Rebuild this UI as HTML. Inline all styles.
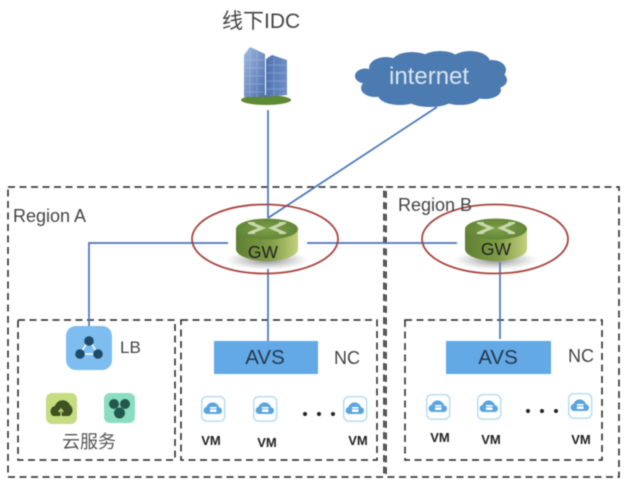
<!DOCTYPE html>
<html>
<head>
<meta charset="utf-8">
<style>
html,body{margin:0;padding:0;background:#fff;width:627px;height:486px;overflow:hidden}
svg{display:block;filter:blur(.45px)}
text{font-family:"Liberation Sans","Noto Sans CJK SC",sans-serif}
</style>
</head>
<body>
<svg width="627" height="486" viewBox="0 0 627 486" xmlns="http://www.w3.org/2000/svg">
<defs>
<linearGradient id="side" x1="0" x2="1" y1="0" y2="0">
<stop offset="0" stop-color="#5f7f32"/><stop offset=".55" stop-color="#7f9c45"/><stop offset="1" stop-color="#c3d07c"/>
</linearGradient>
<radialGradient id="top" cx=".5" cy=".5" r=".6">
<stop offset="0" stop-color="#7f9f48"/><stop offset="1" stop-color="#5d8134"/>
</radialGradient>
<radialGradient id="shadow">
<stop offset="0" stop-color="#666" stop-opacity=".8"/><stop offset="1" stop-color="#999" stop-opacity="0"/>
</radialGradient>
<linearGradient id="bld" x1="0" x2="1" y1="0" y2="1">
<stop offset="0" stop-color="#9db8e0"/><stop offset="1" stop-color="#4d6fae"/>
</linearGradient>
<linearGradient id="bld2" x1="0" x2="1" y1="0" y2="0">
<stop offset="0" stop-color="#4f72b0"/><stop offset="1" stop-color="#6f8fc6"/>
</linearGradient>
<g id="router">
<ellipse cx="0" cy="31" rx="42" ry="10" fill="url(#shadow)"/>
<path d="M-31 0V20C-31 27-16 32 0 32S31 27 31 20V0Z" fill="url(#side)"/>
<ellipse cx="0" cy="0" rx="31" ry="10.500" fill="url(#top)"/>
<g stroke="#c8d9ad" stroke-width="3" fill="none">
<path d="M-17-6-5-1-17 4M17-6 5-1 17 4"/>
<path d="M-19-6H-12M19-6H12M-19 4H-12M19 4H12" stroke-width="2"/>
</g>
</g>
<g id="vm">
<rect x="0.700" y="0.700" width="23" height="24.500" rx="5" fill="#fff" stroke="#b5dbee" stroke-width="1.400"/>
<path d="M6 18a3.600 3.600 0 0 1-.6-7.100A6.600 6.600 0 0 1 18 11.200 3.500 3.500 0 0 1 18.500 18Z" fill="#5aa5e0"/>
<rect x="9" y="11" width="6.500" height="5" fill="#fff"/>
<path d="M9 13H15.500" stroke="#5aa5e0" stroke-width=".8"/>
</g>
</defs>

<!-- dashed boxes -->
<g fill="none" stroke="#222" stroke-width="1.500" stroke-dasharray="7 4.500">
<rect x="8" y="187" width="376" height="290"/>
<rect x="386" y="187" width="233" height="290"/>
<rect x="18" y="320" width="157" height="140"/>
<rect x="181" y="320" width="196" height="140"/>
<rect x="405" y="320" width="197" height="140"/>
</g>

<!-- connectors -->
<g fill="none" stroke="#4a74b8" stroke-width="1.700">
<path d="M268 110V218"/>
<path d="M437 107 268 218"/>
<path d="M228 243H89V327"/>
<path d="M307 243H457"/>
<path d="M268 269V341"/>
<path d="M500 262V339"/>
</g>

<!-- labels top -->
<text x="222" y="28" font-size="21" fill="#444">线下IDC</text>

<!-- building -->
<ellipse cx="266" cy="100" rx="25" ry="5" fill="#5d8a33"/>
<path d="M244 97V55L250 47 265 54V97Z" fill="url(#bld)"/>
<path d="M266 97V59L272 55 287 60V95Z" fill="url(#bld2)"/>
<g stroke="#dfe9f7" stroke-opacity=".35" stroke-width=".7">
<path d="M246 60H264M246 68H264M246 76H264M246 84H264M246 92H264M250 50V97M257 52V97"/>
<path d="M267 65H286M267 73H286M267 81H286M267 89H286M274 57V96"/>
</g>

<!-- cloud -->
<g fill="#4b7bb1">
<ellipse cx="365" cy="76" rx="10" ry="7.500"/>
<ellipse cx="386" cy="68" rx="17" ry="11"/>
<ellipse cx="412" cy="62" rx="20" ry="10"/>
<ellipse cx="440" cy="61" rx="20" ry="10"/>
<ellipse cx="470" cy="62" rx="20" ry="11"/>
<ellipse cx="492" cy="70" rx="14" ry="10"/>
<ellipse cx="497" cy="80" rx="10" ry="8"/>
<ellipse cx="485" cy="90" rx="16" ry="9"/>
<ellipse cx="460" cy="96" rx="20" ry="9"/>
<ellipse cx="430" cy="98" rx="24" ry="9"/>
<ellipse cx="400" cy="95" rx="22" ry="10"/>
<ellipse cx="375" cy="88" rx="14" ry="9"/>
<ellipse cx="430" cy="78" rx="66" ry="20"/>
</g>
<text x="389" y="84" font-size="24" fill="#d8e5f2">internet</text>

<!-- routers and rings -->
<use href="#router" x="267" y="229"/>
<use href="#router" x="496" y="229"/>
<ellipse cx="265" cy="239" rx="73" ry="34.500" fill="none" stroke="#a8443f" stroke-width="1.800"/>
<ellipse cx="495" cy="239" rx="73" ry="34.500" fill="none" stroke="#a8443f" stroke-width="1.800"/>
<text x="263" y="258" font-size="17.500" fill="#222" text-anchor="middle">GW</text>
<text x="496" y="255" font-size="17.500" fill="#222" text-anchor="middle">GW</text>

<text x="13" y="222" font-size="18" fill="#444">Region A</text>
<text x="398" y="211" font-size="18" fill="#444">Region B</text>

<!-- LB -->
<rect x="66" y="326" width="46" height="44" rx="10" fill="#7dbdf0"/>
<g stroke="#fff" stroke-width="1.500" fill="none"><path d="M89 340 80 354H98Z"/></g>
<g fill="#1f4a68"><circle cx="89" cy="341" r="4.800"/><circle cx="80" cy="354" r="4.800"/><circle cx="98" cy="354" r="4.800"/></g>
<text x="120" y="353" font-size="17" fill="#444">LB</text>

<!-- service icons -->
<rect x="46" y="393" width="31" height="31" rx="6" fill="#c6dc80"/>
<path d="M53 416a5.500 5.500 0 0 1 2-10 8 8 0 0 1 15-1 6.500 6.500 0 0 1-1 11Z" fill="#3d5220"/>
<path d="M61 417V410M58.500 412 61 409 63.500 412" stroke="#c6dc80" stroke-width="1.300" fill="none"/>
<rect x="104" y="393" width="31" height="30" rx="6" fill="#8addc0"/>
<g fill="#22594c"><circle cx="114" cy="404" r="5"/><circle cx="125" cy="404" r="5"/><circle cx="119.500" cy="413" r="5.500"/></g>
<text x="62" y="448" font-size="18" fill="#555">云服务</text>

<!-- AVS -->
<rect x="214" y="341" width="104" height="33" fill="#62a9e6"/>
<rect x="446" y="341" width="105" height="33" fill="#62a9e6"/>
<text x="265" y="364" font-size="20.500" fill="#27384d" text-anchor="middle">AVS</text>
<text x="498" y="364" font-size="20.500" fill="#27384d" text-anchor="middle">AVS</text>
<text x="334" y="364" font-size="18" fill="#444">NC</text>
<text x="568" y="362" font-size="18" fill="#444">NC</text>

<!-- VMs -->
<use href="#vm" x="201" y="396"/>
<use href="#vm" x="253" y="396"/>
<use href="#vm" x="343" y="396"/>
<use href="#vm" x="426" y="394"/>
<use href="#vm" x="477" y="394"/>
<use href="#vm" x="568" y="393"/>

<g font-size="13" font-weight="bold" fill="#222" text-anchor="middle">
<text x="211" y="445">VM</text>
<text x="267" y="447">VM</text>
<text x="358" y="445">VM</text>
<text x="440" y="442">VM</text>
<text x="491" y="444">VM</text>
<text x="581" y="444">VM</text>
</g>
<g fill="#222">
<circle cx="305" cy="414" r="2"/><circle cx="319" cy="414" r="2"/><circle cx="333" cy="414" r="2"/>
<circle cx="528" cy="411" r="2"/><circle cx="542" cy="411" r="2"/><circle cx="556" cy="411" r="2"/>
</g>
</svg>
</body>
</html>
